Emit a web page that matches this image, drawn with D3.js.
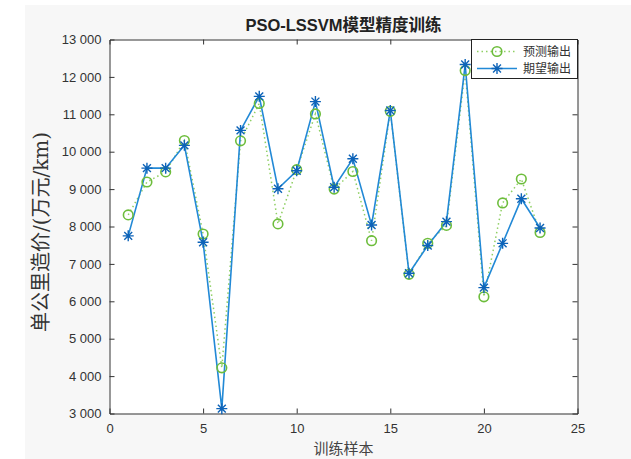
<!DOCTYPE html>
<html>
<head>
<meta charset="utf-8">
<script src="https://cdn.jsdelivr.net/npm/d3@7"></script>
<style>
  body { margin: 0; background: #fff; }
  svg { display: block; }
</style>
</head>
<body>
<div id="chart"></div>
<script>
// sample index 1..23
var samples = d3.range(1, 24);
// 预测输出 (green circles, dotted)
var predicted = [8310, 9190, 9460, 10300, 7800, 4220, 10290, 11290, 8070, 9520, 11010, 9000,
                 9470, 7620, 11080, 6720, 7550, 8030, 12170, 6120, 8630, 9270, 7840];
// 期望输出 (blue stars, solid)
var expected = [7750, 9560, 9560, 10170, 7580, 3130, 10570, 11480, 9010, 9490, 11340, 9050,
                9810, 8040, 11100, 6750, 7490, 8130, 12330, 6365, 7550, 8740, 7960];
var xTicks = [0, 5, 10, 15, 20, 25];
var yTicks = [3000, 4000, 5000, 6000, 7000, 8000, 9000, 10000, 11000, 12000, 13000];
var seriesNames = ["预测输出", "期望输出"];

var width = 631, height = 459;
var margin = {left: 109.5, right: 53.5, top: 39.5, bottom: 45.5};

var svg = d3.select("#chart").append("svg")
  .attr("width", width)
  .attr("height", height);

// figure background (light grey with white strip, like the screenshot)
svg.append("rect").attr("x", 25).attr("y", 5).attr("width", width - 25).attr("height", height - 5)
  .attr("fill", "#f7f7f7");

var x = d3.scaleLinear().domain([0, 25]).range([margin.left, width - margin.right]);
var y = d3.scaleLinear().domain([3000, 13000]).range([height - margin.bottom, margin.top]);

var x0 = x.range()[0], x1 = x.range()[1], y0 = y.range()[0], y1 = y.range()[1];

svg.append("rect").attr("x", x0).attr("y", y1).attr("width", x1 - x0).attr("height", y0 - y1)
  .attr("fill", "#fff");

var fmt = function (d) { return d3.format(",")(d).replace(/,/g, " "); };
var tickColor = "#333";

// axes with inward ticks on all four sides
var gx = svg.append("g").attr("transform", "translate(0," + y0 + ")")
  .call(d3.axisBottom(x).tickValues(xTicks).tickSize(-5).tickPadding(10));
var gxt = svg.append("g").attr("transform", "translate(0," + y1 + ")")
  .call(d3.axisTop(x).tickValues(xTicks).tickSize(-5).tickFormat(""));
var gy = svg.append("g").attr("transform", "translate(" + x0 + ",0)")
  .call(d3.axisLeft(y).tickValues(yTicks).tickSize(-5).tickPadding(8).tickFormat(fmt));
var gyr = svg.append("g").attr("transform", "translate(" + x1 + ",0)")
  .call(d3.axisRight(y).tickValues(yTicks).tickSize(-5).tickFormat(""));

[gx, gxt, gy, gyr].forEach(function (g) {
  g.selectAll("path.domain").attr("stroke", tickColor).attr("stroke-width", 1);
  g.selectAll(".tick line").attr("stroke", tickColor);
  g.selectAll(".tick text")
    .style("font-family", "Liberation Sans, Arial, sans-serif")
    .style("font-size", "13px")
    .attr("fill", "#333");
});
// hide ticks at the ends, the frame covers them
gxt.selectAll(".tick line").filter(function (d) { return d == 0 || d == 25; }).remove();
gx.selectAll(".tick line").filter(function (d) { return d == 0 || d == 25; }).remove();
gy.selectAll(".tick line").filter(function (d) { return d == 3000 || d == 13000; }).remove();
gyr.selectAll(".tick line").filter(function (d) { return d == 3000 || d == 13000; }).remove();

var line = d3.line().x(function (d, i) { return x(samples[i]); }).y(function (d) { return y(d); });

// predicted: dotted green + circles
svg.append("path").datum(predicted)
  .attr("d", line)
  .attr("fill", "none")
  .attr("stroke", "#8fcf63")
  .attr("stroke-width", 1.5)
  .attr("stroke-dasharray", "1.5,3");

// expected: solid blue + stars
svg.append("path").datum(expected)
  .attr("d", line)
  .attr("fill", "none")
  .attr("stroke", "#2289d6")
  .attr("stroke-width", 1.6);

svg.append("g").selectAll("circle")
  .data(predicted)
  .enter().append("circle")
  .attr("cx", function (d, i) { return x(samples[i]); })
  .attr("cy", function (d) { return y(d); })
  .attr("r", 4.8)
  .attr("fill", "none")
  .attr("stroke", "#6dbd3c")
  .attr("stroke-width", 1.6);

var star = function (g, cx, cy, s) {
  var d = "M" + (cx - s) + "," + cy + "H" + (cx + s) +
    "M" + cx + "," + (cy - s) + "V" + (cy + s) +
    "M" + (cx - s * 0.72) + "," + (cy - s * 0.72) + "L" + (cx + s * 0.72) + "," + (cy + s * 0.72) +
    "M" + (cx - s * 0.72) + "," + (cy + s * 0.72) + "L" + (cx + s * 0.72) + "," + (cy - s * 0.72);
  g.append("path").attr("d", d).attr("stroke", "#0d63b8").attr("stroke-width", 1.4).attr("fill", "none");
};
var stars = svg.append("g");
expected.forEach(function (d, i) { star(stars, x(samples[i]), y(d), 5.5); });

// title
svg.append("text")
  .attr("x", (x0 + x1) / 2).attr("y", 31)
  .attr("text-anchor", "middle")
  .style("font-family", "Liberation Sans, 'Noto Sans CJK SC', sans-serif")
  .style("font-size", "16.5px")
  .style("font-weight", "bold")
  .attr("fill", "#222")
  .text("PSO-LSSVM模型精度训练");

// axis labels
svg.append("text")
  .attr("x", (x0 + x1) / 2).attr("y", 454)
  .attr("text-anchor", "middle")
  .style("font-family", "'Noto Sans CJK SC', sans-serif")
  .style("font-size", "15px")
  .attr("fill", "#444")
  .text("训练样本");

svg.append("text")
  .attr("transform", "translate(48," + 232 + ") rotate(-90)")
  .attr("text-anchor", "middle")
  .style("font-family", "'DejaVu Serif', 'Noto Sans CJK SC', serif")
  .style("font-size", "20px")
  .attr("fill", "#333")
  .text("单公里造价/(万元/km)");

// legend
var lg = svg.append("g");
lg.append("rect").attr("x", 471.5).attr("y", y1).attr("width", x1 - 471.5).attr("height", 39)
  .attr("fill", "#fff").attr("stroke", "#222").attr("stroke-width", 1);
var rows = [51.5, 68.5];
lg.append("line").attr("x1", 477).attr("x2", 517).attr("y1", rows[0]).attr("y2", rows[0])
  .attr("stroke", "#8fcf63").attr("stroke-width", 1.5).attr("stroke-dasharray", "1.5,3");
lg.append("circle").attr("cx", 497).attr("cy", rows[0]).attr("r", 4.8)
  .attr("fill", "none").attr("stroke", "#6dbd3c").attr("stroke-width", 1.6);
lg.append("line").attr("x1", 477).attr("x2", 517).attr("y1", rows[1]).attr("y2", rows[1])
  .attr("stroke", "#2289d6").attr("stroke-width", 1.6);
star(lg, 497, rows[1], 5.5);
lg.selectAll("text.lab").data(seriesNames).enter().append("text")
  .attr("x", 523).attr("y", function (d, i) { return rows[i] + 4.5; })
  .style("font-family", "'Noto Sans CJK SC', sans-serif")
  .style("font-size", "12px")
  .attr("fill", "#333")
  .text(function (d) { return d; });
</script>
</body>
</html>
